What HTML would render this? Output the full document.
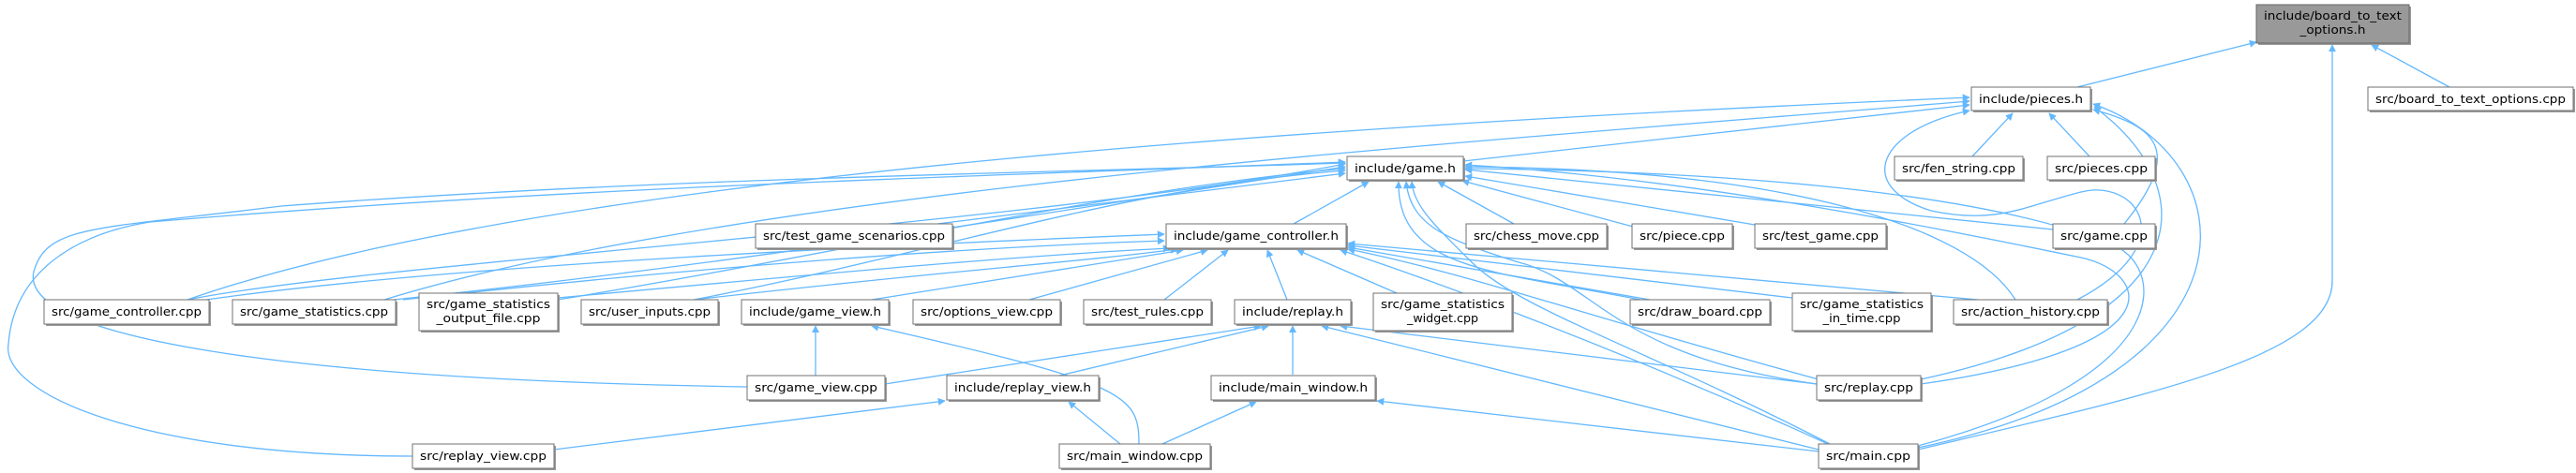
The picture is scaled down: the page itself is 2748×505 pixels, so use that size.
<!DOCTYPE html>
<html><head><meta charset="utf-8"><style>
html,body{margin:0;padding:0;background:#fff;}
svg{display:block;}
text{font-family:"DejaVu Sans","Liberation Sans",sans-serif;font-size:12.5px;fill:#000;}
.e{fill:none;stroke:#63b8ff;stroke-width:1.3;marker-end:url(#ah);}
.n{fill:#fff;stroke:#707070;stroke-width:1;}
.s{fill:#999;}
</style></head><body>
<svg width="2748" height="505" viewBox="0 0 2748 505" xmlns="http://www.w3.org/2000/svg">
<defs><marker id="ah" viewBox="0 0 10 10" refX="9" refY="5" markerWidth="8" markerHeight="8" markerUnits="userSpaceOnUse" orient="auto"><path d="M0,0 L10,5 L0,10 z" fill="#63b8ff"/></marker></defs>
<g>
<path class="e" d="M2216,93 L2407,45"/>
<path class="e" d="M2613,93 L2530,48"/>
<path class="e" d="M2046,480 C2300,420 2488,380 2488,300 L2488,48"/>
<path class="e" d="M1561,172 L2101,112"/>
<path class="e" d="M2104,167 L2147,121"/>
<path class="e" d="M2229,167 L2186,121"/>
<path class="e" d="M2266,239 C2330,160 2300,135 2233,117"/>
<path class="e" d="M2216,320 C2330,260 2280,190 2220,205 C2160,220 2130,240 2060,225 C1980,200 2000,140 2101,118"/>
<path class="e" d="M2049,405 C2350,340 2350,200 2234,114"/>
<path class="e" d="M2046,478 C2420,400 2400,170 2233,111"/>
<path class="e" d="M200,320 C600,180 1500,130 2101,104"/>
<path class="e" d="M410,320 C800,200 1600,150 2101,108"/>
<path class="e" d="M1380,239 L1460,194"/>
<path class="e" d="M1000,239 L1435,185"/>
<path class="e" d="M1615,239 L1534,194"/>
<path class="e" d="M1742,242 L1560,193"/>
<path class="e" d="M1872,240 L1563,188"/>
<path class="e" d="M2190,245 L1563,181"/>
<path class="e" d="M2150,320 C2100,240 1900,180 1563,178"/>
<path class="e" d="M1750,320 C1600,290 1490,290 1492,194"/>
<path class="e" d="M1938,410 C1720,380 1700,300 1620,280 C1540,255 1505,240 1500,194"/>
<path class="e" d="M1952,474 C1750,370 1620,330 1570,280 C1530,240 1508,220 1506,194"/>
<path class="e" d="M2049,410 C2330,370 2290,290 2220,275 C2050,240 1800,190 1563,176"/>
<path class="e" d="M2046,476 C2330,400 2310,280 2250,260 C2100,200 1800,182 1563,180"/>
<path class="e" d="M200,320 C400,280 1100,240 1435,175"/>
<path class="e" d="M420,320 C800,280 1100,230 1435,178"/>
<path class="e" d="M595,320 C900,270 1200,200 1435,180"/>
<path class="e" d="M740,320 C1000,270 1200,200 1435,182"/>
<path class="e" d="M797,413 C300,405 20,360 36,290 C50,240 100,245 300,220 C700,190 1100,185 1435,174"/>
<path class="e" d="M440,487 C150,487 0,420 9,367 C15,290 80,250 160,237 C600,200 1000,190 1435,173"/>
<path class="e" d="M220,320 C500,280 1000,260 1242,250"/>
<path class="e" d="M430,320 C700,290 1000,265 1242,257"/>
<path class="e" d="M595,318 C900,290 1100,272 1248,265"/>
<path class="e" d="M740,320 C1000,290 1150,280 1256,266"/>
<path class="e" d="M930,320 L1262,267"/>
<path class="e" d="M1098,320 L1288,267"/>
<path class="e" d="M1242,320 L1310,267"/>
<path class="e" d="M1373,320 L1352,267"/>
<path class="e" d="M1490,313 L1384,267"/>
<path class="e" d="M1760,320 L1438,264"/>
<path class="e" d="M1912,318 L1438,262"/>
<path class="e" d="M2110,320 L1438,260"/>
<path class="e" d="M1940,405 C1700,340 1560,290 1438,266"/>
<path class="e" d="M1950,474 C1700,360 1500,290 1430,267"/>
<path class="e" d="M944,410 L1345,348"/>
<path class="e" d="M1130,401 L1353,348"/>
<path class="e" d="M1379,400 L1379,348"/>
<path class="e" d="M1938,410 L1430,348"/>
<path class="e" d="M1940,480 L1410,348"/>
<path class="e" d="M870,401 L870,348"/>
<path class="e" d="M1215,474 C1215,420 1200,410 930,348"/>
<path class="e" d="M591,480 L1008,428"/>
<path class="e" d="M1195,474 L1140,429"/>
<path class="e" d="M1240,474 L1340,429"/>
<path class="e" d="M1940,482 L1469,428"/>
</g>
<g>
<rect class="s" x="2409" y="7" width="163" height="41"/>
<rect x="2407" y="5" width="163" height="41" fill="#999" stroke="#666"/>
<text x="2488.5" y="21" text-anchor="middle" textLength="147" lengthAdjust="spacingAndGlyphs">include/board_to_text</text>
<text x="2488.5" y="36" text-anchor="middle" textLength="70" lengthAdjust="spacingAndGlyphs">_options.h</text>
</g>
<g>
<rect class="s" x="2105" y="95" width="127" height="25"/><rect class="n" x="2103" y="93" width="127" height="25"/><text x="2166.5" y="110" text-anchor="middle" textLength="111" lengthAdjust="spacingAndGlyphs">include/pieces.h</text>
<rect class="s" x="2528" y="95" width="219" height="25"/><rect class="n" x="2526" y="93" width="219" height="25"/><text x="2635.5" y="110" text-anchor="middle" textLength="203" lengthAdjust="spacingAndGlyphs">src/board_to_text_options.cpp</text>
<rect class="s" x="1439" y="169" width="124" height="25"/><rect class="n" x="1437" y="167" width="124" height="25"/><text x="1499" y="184" text-anchor="middle" textLength="108" lengthAdjust="spacingAndGlyphs">include/game.h</text>
<rect class="s" x="2023" y="169" width="137" height="25"/><rect class="n" x="2021" y="167" width="137" height="25"/><text x="2089.5" y="184" text-anchor="middle" textLength="121" lengthAdjust="spacingAndGlyphs">src/fen_string.cpp</text>
<rect class="s" x="2186" y="169" width="115" height="25"/><rect class="n" x="2184" y="167" width="115" height="25"/><text x="2241.5" y="184" text-anchor="middle" textLength="99" lengthAdjust="spacingAndGlyphs">src/pieces.cpp</text>
<rect class="s" x="1246" y="241" width="192" height="26"/><rect class="n" x="1244" y="239" width="192" height="26"/><text x="1340" y="256" text-anchor="middle" textLength="176" lengthAdjust="spacingAndGlyphs">include/game_controller.h</text>
<rect class="s" x="808" y="241" width="210" height="26"/><rect class="n" x="806" y="239" width="210" height="26"/><text x="911" y="256" text-anchor="middle" textLength="194" lengthAdjust="spacingAndGlyphs">src/test_game_scenarios.cpp</text>
<rect class="s" x="1566" y="241" width="150" height="26"/><rect class="n" x="1564" y="239" width="150" height="26"/><text x="1639" y="256" text-anchor="middle" textLength="134" lengthAdjust="spacingAndGlyphs">src/chess_move.cpp</text>
<rect class="s" x="1743" y="241" width="107" height="26"/><rect class="n" x="1741" y="239" width="107" height="26"/><text x="1794.5" y="256" text-anchor="middle" textLength="91" lengthAdjust="spacingAndGlyphs">src/piece.cpp</text>
<rect class="s" x="1874" y="241" width="140" height="26"/><rect class="n" x="1872" y="239" width="140" height="26"/><text x="1942" y="256" text-anchor="middle" textLength="124" lengthAdjust="spacingAndGlyphs">src/test_game.cpp</text>
<rect class="s" x="2192" y="241" width="109" height="26"/><rect class="n" x="2190" y="239" width="109" height="26"/><text x="2244.5" y="256" text-anchor="middle" textLength="93" lengthAdjust="spacingAndGlyphs">src/game.cpp</text>
<rect class="s" x="49" y="322" width="176" height="26"/><rect class="n" x="47" y="320" width="176" height="26"/><text x="135" y="337" text-anchor="middle" textLength="160" lengthAdjust="spacingAndGlyphs">src/game_controller.cpp</text>
<rect class="s" x="250" y="322" width="174" height="26"/><rect class="n" x="248" y="320" width="174" height="26"/><text x="335" y="337" text-anchor="middle" textLength="158" lengthAdjust="spacingAndGlyphs">src/game_statistics.cpp</text>
<rect class="s" x="449" y="315" width="148" height="40"/><rect class="n" x="447" y="313" width="148" height="40"/><text x="521" y="329" text-anchor="middle" textLength="132" lengthAdjust="spacingAndGlyphs">src/game_statistics</text><text x="521" y="344" text-anchor="middle" textLength="111" lengthAdjust="spacingAndGlyphs">_output_file.cpp</text>
<rect class="s" x="622" y="322" width="146" height="26"/><rect class="n" x="620" y="320" width="146" height="26"/><text x="693" y="337" text-anchor="middle" textLength="130" lengthAdjust="spacingAndGlyphs">src/user_inputs.cpp</text>
<rect class="s" x="793" y="322" width="157" height="26"/><rect class="n" x="791" y="320" width="157" height="26"/><text x="869.5" y="337" text-anchor="middle" textLength="141" lengthAdjust="spacingAndGlyphs">include/game_view.h</text>
<rect class="s" x="976" y="322" width="157" height="26"/><rect class="n" x="974" y="320" width="157" height="26"/><text x="1052.5" y="337" text-anchor="middle" textLength="141" lengthAdjust="spacingAndGlyphs">src/options_view.cpp</text>
<rect class="s" x="1158" y="322" width="136" height="26"/><rect class="n" x="1156" y="320" width="136" height="26"/><text x="1224" y="337" text-anchor="middle" textLength="120" lengthAdjust="spacingAndGlyphs">src/test_rules.cpp</text>
<rect class="s" x="1319" y="322" width="124" height="26"/><rect class="n" x="1317" y="320" width="124" height="26"/><text x="1379" y="337" text-anchor="middle" textLength="108" lengthAdjust="spacingAndGlyphs">include/replay.h</text>
<rect class="s" x="1467" y="315" width="148" height="40"/><rect class="n" x="1465" y="313" width="148" height="40"/><text x="1539" y="329" text-anchor="middle" textLength="132" lengthAdjust="spacingAndGlyphs">src/game_statistics</text><text x="1539" y="344" text-anchor="middle" textLength="76" lengthAdjust="spacingAndGlyphs">_widget.cpp</text>
<rect class="s" x="1741" y="322" width="149" height="26"/><rect class="n" x="1739" y="320" width="149" height="26"/><text x="1813.5" y="337" text-anchor="middle" textLength="133" lengthAdjust="spacingAndGlyphs">src/draw_board.cpp</text>
<rect class="s" x="1914" y="315" width="148" height="40"/><rect class="n" x="1912" y="313" width="148" height="40"/><text x="1986" y="329" text-anchor="middle" textLength="132" lengthAdjust="spacingAndGlyphs">src/game_statistics</text><text x="1986" y="344" text-anchor="middle" textLength="83" lengthAdjust="spacingAndGlyphs">_in_time.cpp</text>
<rect class="s" x="2086" y="322" width="164" height="26"/><rect class="n" x="2084" y="320" width="164" height="26"/><text x="2166" y="337" text-anchor="middle" textLength="148" lengthAdjust="spacingAndGlyphs">src/action_history.cpp</text>
<rect class="s" x="799" y="403" width="147" height="26"/><rect class="n" x="797" y="401" width="147" height="26"/><text x="870.5" y="418" text-anchor="middle" textLength="131" lengthAdjust="spacingAndGlyphs">src/game_view.cpp</text>
<rect class="s" x="1012" y="403" width="162" height="26"/><rect class="n" x="1010" y="401" width="162" height="26"/><text x="1091" y="418" text-anchor="middle" textLength="146" lengthAdjust="spacingAndGlyphs">include/replay_view.h</text>
<rect class="s" x="1294" y="403" width="175" height="26"/><rect class="n" x="1292" y="401" width="175" height="26"/><text x="1379.5" y="418" text-anchor="middle" textLength="159" lengthAdjust="spacingAndGlyphs">include/main_window.h</text>
<rect class="s" x="1940" y="403" width="111" height="26"/><rect class="n" x="1938" y="401" width="111" height="26"/><text x="1993.5" y="418" text-anchor="middle" textLength="95" lengthAdjust="spacingAndGlyphs">src/replay.cpp</text>
<rect class="s" x="442" y="476" width="151" height="26"/><rect class="n" x="440" y="474" width="151" height="26"/><text x="515.5" y="491" text-anchor="middle" textLength="135" lengthAdjust="spacingAndGlyphs">src/replay_view.cpp</text>
<rect class="s" x="1132" y="476" width="161" height="26"/><rect class="n" x="1130" y="474" width="161" height="26"/><text x="1210.5" y="491" text-anchor="middle" textLength="145" lengthAdjust="spacingAndGlyphs">src/main_window.cpp</text>
<rect class="s" x="1942" y="476" width="106" height="26"/><rect class="n" x="1940" y="474" width="106" height="26"/><text x="1993" y="491" text-anchor="middle" textLength="90" lengthAdjust="spacingAndGlyphs">src/main.cpp</text>
</g>
</svg>
</body></html>
